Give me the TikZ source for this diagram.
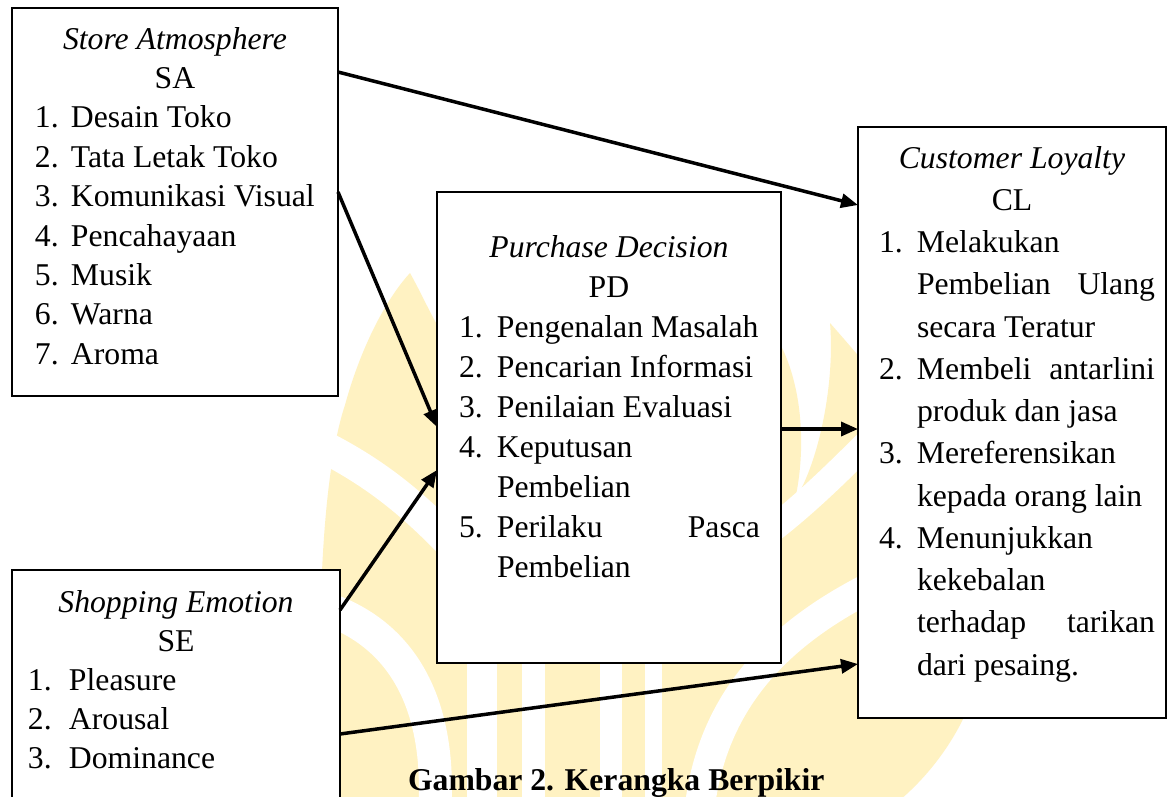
\documentclass[tikz,border=0pt]{standalone}
\usepackage{fontspec}
\setmainfont{Liberation Serif}
\usetikzlibrary{arrows.meta,calc}
\definecolor{wm}{HTML}{FFF2C2}
\newlength\tind
\newlength\nind
\newcommand\fs{\fontsize{31.7}{39.4}\selectfont}
\newcommand\vitem[2]{\par\noindent\hangindent=\tind\hangafter=1\hbox to \tind{\hskip\nind #1\hfil}#2}
\tikzset{
  box/.style={draw, line width=2pt, fill=white, anchor=north west, inner sep=0pt, outer sep=0pt},
  conn/.style={line width=3.5pt, -{Triangle[length=17pt,width=14pt]}},
  txt/.style={anchor=base west, inner sep=0pt, outer sep=0pt},
  band/.style={draw=white, line width=#1},
}
\begin{document}
\begin{tikzpicture}[x=1pt,y=-1pt]
\useasboundingbox (0,0) rectangle (1168,796);
\fill[white] (0,0) rectangle (1168,796);
% watermark (approximate)
\fill[wm] (410,273)
  .. controls (425,300) and (435,325) .. (450,345)
  -- (775,335)
  .. controls (800,375) and (808,440) .. (795,500)
  .. controls (820,460) and (835,380) .. (830,323)
  .. controls (880,380) and (940,450) .. (975,540)
  .. controls (1010,640) and (970,740) .. (900,800)
  -- (325,800)
  .. controls (315,650) and (320,480) .. (345,405)
  .. controls (360,350) and (385,300) .. (410,273) -- cycle;
\draw[band=32pt] (320,445) .. controls (370,470) and (410,500) .. (455,548);
\draw[band=26pt] (765,535) .. controls (805,505) and (840,470) .. (875,435);
\draw[band=33pt] (318,606) .. controls (400,630) and (440,700) .. (435,805);
\draw[band=30pt] (885,580) .. controls (790,625) and (715,690) .. (700,805);
\fill[white] (467,640) rectangle (497,800);
\fill[white] (522,640) rectangle (545,800);
\fill[white] (600,640) rectangle (622,800);
\fill[white] (645,640) rectangle (662,800);
% boxes
\node[box, minimum width=326pt, minimum height=388pt] (sa) at (12,8) {};
\node[box, minimum width=344pt, minimum height=471pt] (pd) at (437,192) {};
\node[box, minimum width=308pt, minimum height=591pt] (cl) at (858,127) {};
\node[box, minimum width=328pt, minimum height=250pt] (se) at (12,570) {};
% texts
\node[txt] (satext) at (12,49) {\parbox[t]{326pt}{\fs\baselineskip=39.4pt
  \setlength\tind{59pt}\setlength\nind{23pt}%
  \centering\textit{Store Atmosphere}\\SA\par
  \raggedright
  \vitem{1.}{Desain Toko}\vitem{2.}{Tata Letak Toko}\vitem{3.}{Komunikasi Visual}%
  \vitem{4.}{Pencahayaan}\vitem{5.}{Musik}\vitem{6.}{Warna}\vitem{7.}{Aroma}\par}};
\node[txt] (pdtext) at (437,257) {\parbox[t]{344pt}{\fs\baselineskip=40pt
  \setlength\tind{60pt}\setlength\nind{22pt}%
  \centering\textit{Purchase Decision}\\PD\par
  \raggedright
  \vitem{1.}{Pengenalan Masalah}\vitem{2.}{Pencarian Informasi}\vitem{3.}{Penilaian Evaluasi}%
  \vitem{4.}{Keputusan\newline Pembelian}%
  \vitem{5.}{\hbox to 263pt{Perilaku\hfil Pasca}\newline Pembelian}\par}};
\node[txt] (cltext) at (858,168) {\parbox[t]{308pt}{\fs\baselineskip=42.25pt
  \setlength\tind{59pt}\setlength\nind{21pt}%
  \centering\textit{Customer Loyalty}\\CL\par
  \raggedright
  \vitem{1.}{Melakukan\newline\hbox to 238pt{Pembelian\hfil Ulang}\newline secara Teratur}%
  \vitem{2.}{\hbox to 238pt{Membeli\hfil antarlini}\newline produk dan jasa}%
  \vitem{3.}{Mereferensikan\newline kepada orang lain}%
  \vitem{4.}{Menunjukkan\newline kekebalan\newline\hbox to 238pt{terhadap\hfil tarikan}\newline dari pesaing.}\par}};
\node[txt] (setext) at (12,612) {\parbox[t]{328pt}{\fs\baselineskip=39pt
  \setlength\tind{57pt}\setlength\nind{16pt}%
  \centering\textit{Shopping Emotion}\\SE\par
  \raggedright
  \vitem{1.}{Pleasure}\vitem{2.}{Arousal}\vitem{3.}{Dominance}\par}};
% caption
\node[txt] (caption) at (408,790) {\fs\bfseries Gambar 2. Kerangka Berpikir};
% connectors
\draw[conn] ($(sa.north east)+(0,64)$) -- ($(cl.north west)+(0,78)$);
\draw[conn] ($(sa.north east)+(0,184)$) -- ($(pd.north west)+(0,235)$);
\draw[conn] ($(se.north east)+(0,40)$) -- ($(pd.north west)+(0,278)$);
\draw[conn] ($(pd.north east)+(0,237)$) -- ($(cl.north west)+(0,302)$);
\draw[conn] ($(se.north east)+(0,164)$) -- ($(cl.north west)+(0,537)$);
\end{tikzpicture}
\end{document}
